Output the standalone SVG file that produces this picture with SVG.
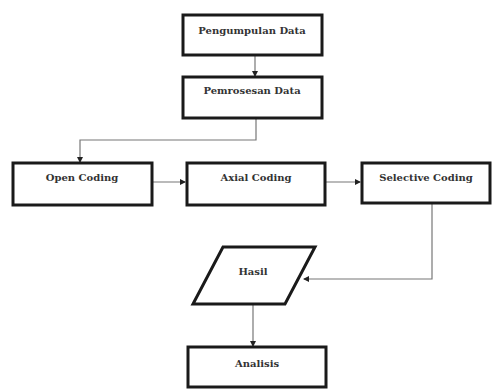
<svg xmlns="http://www.w3.org/2000/svg" width="498" height="390" viewBox="0 0 498 390">
<style>
.n{fill:#fff;stroke:#1a1a1a;stroke-width:3}
.t{font-family:'DejaVu Serif',serif;font-weight:bold;font-size:10px;fill:#333;text-anchor:middle}
.c{fill:none;stroke:#777;stroke-width:1.2}
</style>
<defs>
<marker id="a" markerWidth="6" markerHeight="6" refX="5" refY="3" orient="auto" markerUnits="userSpaceOnUse">
<path d="M0,0 L6,3 L0,6 z" fill="#222"/>
</marker>
</defs>
<rect width="498" height="390" fill="#fff"/>
<g id="connectors">
<path class="c" d="M255,55 V76" marker-end="url(#a)"/>
<path class="c" d="M256,118 V140 H80 V162" marker-end="url(#a)"/>
<path class="c" d="M152,182 H185" marker-end="url(#a)"/>
<path class="c" d="M325,182 H360" marker-end="url(#a)"/>
<path class="c" d="M432,203 V279 H304" marker-end="url(#a)"/>
<path class="c" d="M253,304 V346" marker-end="url(#a)"/>
</g>
<g id="pengumpulan"><rect class="n" x="183" y="15" width="139" height="40"/><text class="t" x="252" y="34">Pengumpulan Data</text></g>
<g id="pemrosesan"><rect class="n" x="183" y="77" width="139" height="41"/><text class="t" x="252" y="94">Pemrosesan Data</text></g>
<g id="open"><rect class="n" x="13" y="163" width="139" height="42"/><text class="t" x="82" y="181">Open Coding</text></g>
<g id="axial"><rect class="n" x="187" y="163" width="138" height="42"/><text class="t" x="256" y="181">Axial Coding</text></g>
<g id="selective"><rect class="n" x="362" y="163" width="128" height="40"/><text class="t" x="426" y="181">Selective Coding</text></g>
<g id="hasil"><polygon class="n" points="223,247 315,247 285,304 193,304"/><text class="t" x="253" y="275">Hasil</text></g>
<g id="analisis"><rect class="n" x="188" y="347" width="138" height="40"/><text class="t" x="257" y="367">Analisis</text></g>
</svg>
